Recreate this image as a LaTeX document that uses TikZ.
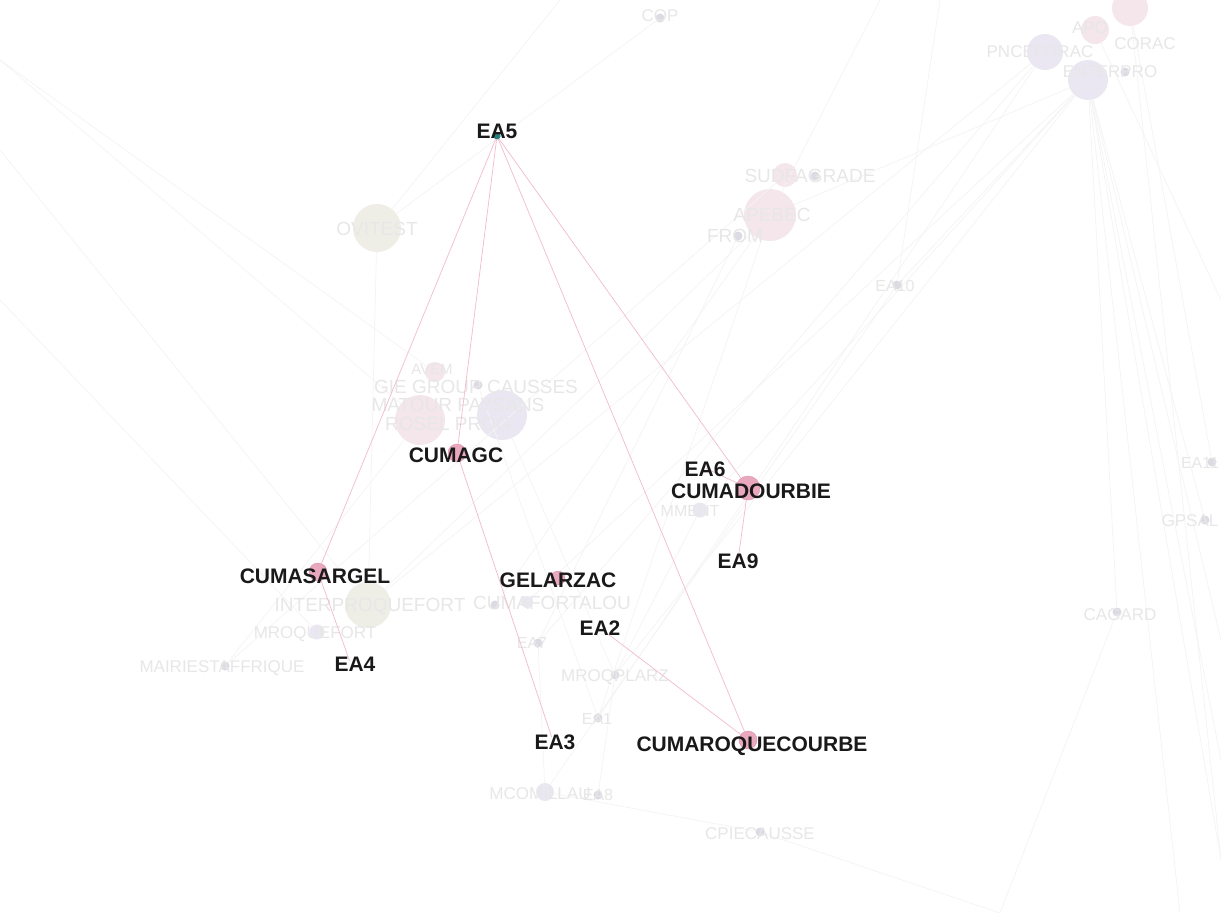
\documentclass[tikz,border=0pt]{standalone}
\usepackage{fontspec}
\setmainfont{Liberation Sans}
\definecolor{hlfill}{HTML}{EAA8BE}
\definecolor{hldraw}{HTML}{DC92AB}
\definecolor{hledge}{HTML}{F2BCCB}
\definecolor{fbeige}{HTML}{EFEEE6}
\definecolor{fpink}{HTML}{F4E6EB}
\definecolor{flav}{HTML}{EAE7F2}
\definecolor{fdot}{HTML}{DCDAE2}
\definecolor{ftext}{HTML}{E7E7E7}
\definecolor{fedge}{HTML}{F4F4F4}
\tikzset{
  hl/.style={circle, fill=hlfill, draw=hldraw, line width=0.4pt, minimum size=#1, inner sep=0pt},
  hl/.default=18pt,
  fn/.style={circle, fill=#1, minimum size=14pt, inner sep=0pt},
  fbig/.style={circle, fill=#1, minimum size=48pt, inner sep=0pt},
  fdotn/.style={circle, fill=fdot, minimum size=9pt, inner sep=0pt},
  lab/.style={font=\fontsize{21}{23}\selectfont\bfseries, text=black!90, inner sep=0pt},
  flab/.style={font=\fontsize{19}{22}\selectfont, text=ftext, inner sep=0pt},
  hledgest/.style={draw=hledge, line width=0.7pt},
  bgedge/.style={draw=fedge, line width=0.7pt}
}
\begin{document}
\begin{tikzpicture}[x=1pt,y=-1pt]
\useasboundingbox (0,0) rectangle (1221,913);
\fill[white] (0,0) rectangle (1221,913);

% ---- border coordinates for faded edges ----
\coordinate (b1) at (0,60);
\coordinate (b2) at (0,150);
\coordinate (b3) at (1221,640);
\coordinate (b4) at (1221,860);
\coordinate (b5) at (560,0);
\coordinate (b6) at (940,0);
\coordinate (b7) at (880,0);
\coordinate (b8) at (1221,300);
\coordinate (b9) at (1000,913);
\coordinate (b10) at (0,300);
\coordinate (b11) at (1221,760);
\coordinate (b12) at (1180,913);

% ---- faded background nodes ----
\node[fbig=fbeige] (ovitest) at (377,228) {};
\node[fn=fpink, minimum size=24pt] (sudgrade) at (785,175) {};
\node[fdotn] (sudgrade2) at (815,176) {};
\node[fbig=fpink, minimum size=52pt] (apebec) at (770,215) {};
\node[fdotn] (from) at (738,236) {};
\node[fdotn] (ea10) at (897,285) {};
\node[fn=fpink, minimum size=20pt] (avem) at (435,372) {};
\node[fdotn] (gie) at (478,385) {};
\node[fbig=fpink, minimum size=50pt] (rosel) at (420,420) {};
\node[fbig=flav, minimum size=50pt] (prog) at (502,415) {};
\node[fn=flav, minimum size=15pt] (mment) at (700,510) {};
\node[fbig=fbeige, minimum size=46pt] (interpro) at (368,605) {};
\node[fn=flav, minimum size=12pt] (fortalou) at (527,602) {};
\node[fdotn] (fortalou2) at (495,605) {};
\node[fn=flav, minimum size=15pt] (mroquefort) at (317,632) {};
\node[fdotn] (mairie) at (225,666) {};
\node[fdotn] (ea7) at (538,643) {};
\node[fdotn] (mroqplarz) at (615,675) {};
\node[fdotn] (ea1) at (598,718) {};
\node[fn=flav, minimum size=18pt] (mco) at (545,792) {};
\node[fdotn] (ea8) at (598,795) {};
\node[fdotn] (cpie) at (760,832) {};
\node[fdotn] (cagard) at (1117,612) {};
\node[fdotn] (gpsa) at (1205,520) {};
\node[fdotn] (ea11) at (1212,462) {};
\node[fn=flav, minimum size=36pt] (pnce) at (1045,52) {};
\node[fn=fpink, minimum size=28pt] (apo) at (1095,30) {};
\node[fn=fpink, minimum size=36pt] (topn) at (1130,8) {};
\node[fn=flav, minimum size=40pt] (enterpro) at (1088,80) {};
\node[fdotn] (corac) at (1125,72) {};
\node[fdotn] (cop) at (660,18) {};

% ---- faded edges ----
\path[bgedge] (b1) -- (avem);
\path[bgedge] (b1) -- (rosel);
\path[bgedge] (b2) -- (interpro);
\path[bgedge] (b10) -- (mroquefort);
\path[bgedge] (ovitest) -- (b5);
\path[bgedge] (enterpro) -- (ea10);
\path[bgedge] (enterpro) -- (apebec);
\path[bgedge] (enterpro) -- (mment);
\path[bgedge] (enterpro) -- (fortalou);
\path[bgedge] (enterpro) -- (mroqplarz);
\path[bgedge] (enterpro) -- (b3);
\path[bgedge] (enterpro) -- (b4);
\path[bgedge] (enterpro) -- (b11);
\path[bgedge] (enterpro) -- (b12);
\path[bgedge] (enterpro) -- (cagard);
\path[bgedge] (enterpro) -- (gpsa);
\path[bgedge] (pnce) -- (ea1);
\path[bgedge] (pnce) -- (ea7);
\path[bgedge] (pnce) -- (interpro);
\path[bgedge] (apo) -- (b8);
\path[bgedge] (topn) -- (b4);
\path[bgedge] (topn) -- (ea11);
\path[bgedge] (b6) -- (ea10);
\path[bgedge] (ea10) -- (mco);
\path[bgedge] (b7) -- (apebec);
\path[bgedge] (apebec) -- (interpro);
\path[bgedge] (apebec) -- (ea1);
\path[bgedge] (apebec) -- (fortalou2);
\path[bgedge] (sudgrade) -- (mairie);
\path[bgedge] (from) -- (ea7);
\path[bgedge] (ovitest) -- (interpro);
\path[bgedge] (prog) -- (mroqplarz);
\path[bgedge] (rosel) -- (mairie);
\path[bgedge] (gie) -- (ea1);
\path[bgedge] (mco) -- (cpie);
\path[bgedge] (ea8) -- (mroqplarz);
\path[bgedge] (mco) -- (ea7);
\path[bgedge] (cpie) -- (b9);
\path[bgedge] (cagard) -- (b9);
\path[bgedge] (mment) -- (mroqplarz);
\path[bgedge] (cop) -- (ovitest);

% ---- faded labels ----
\node[flab] (l-ovitest) at (377,229) {OVITEST};
\node[flab] (l-sudgrade) at (810,176) {SUDFAGRADE};
\node[flab] (l-apebec) at (772,215) {APEBEC};
\node[flab] (l-from) at (735,236) {FROM};
\node[flab, font=\fontsize{16}{18}\selectfont] (l-ea10) at (895,286) {EA10};
\node[flab, font=\fontsize{15}{18}\selectfont] (l-avem) at (432,369) {AVEM};
\node[flab] (l-gie) at (476,387) {GIE GROUP CAUSSES};
\node[flab] (l-matour) at (458,405) {MATOUR PAYSANS};
\node[flab] (l-rosel) at (448,424) {ROSEL PROG};
\node[flab, font=\fontsize{16}{18}\selectfont] (l-mment) at (690,511) {MMENT};
\node[flab] (l-interpro) at (370,607) {INTERPROQUEFORT};
\node[flab] (l-fortalou) at (552,603) {CUMAFORTALOU};
\node[flab, font=\fontsize{17}{18}\selectfont] (l-mroquefort) at (315,634) {MROQUEFORT};
\node[flab, font=\fontsize{17}{18}\selectfont] (l-mairie) at (222,668) {MAIRIESTAFFRIQUE};
\node[flab, font=\fontsize{16}{18}\selectfont] (l-ea7) at (532,643) {EA7};
\node[flab, font=\fontsize{17}{18}\selectfont] (l-mroqplarz) at (615,677) {MROQPLARZ};
\node[flab, font=\fontsize{16}{18}\selectfont] (l-ea1) at (597,719) {EA1};
\node[flab, font=\fontsize{17}{18}\selectfont] (l-mco) at (540,794) {MCOMILLAU};
\node[flab, font=\fontsize{16}{18}\selectfont] (l-ea8) at (598,795) {EA8};
\node[flab, font=\fontsize{17}{18}\selectfont] (l-cpie) at (760,834) {CPIECAUSSE};
\node[flab, font=\fontsize{17}{18}\selectfont] (l-cagard) at (1120,615) {CAGARD};
\node[flab, font=\fontsize{17}{18}\selectfont] (l-gpsa) at (1190,521) {GPSAL};
\node[flab, font=\fontsize{16}{18}\selectfont] (l-ea11) at (1200,463) {EA11};
\node[flab, font=\fontsize{17}{18}\selectfont] (l-pnce) at (1040,52) {PNCEFORAC};
\node[flab, font=\fontsize{17}{18}\selectfont] (l-corac) at (1145,44) {CORAC};
\node[flab, font=\fontsize{17}{18}\selectfont] (l-apo) at (1090,28) {APO};
\node[flab, font=\fontsize{17}{18}\selectfont] (l-enterpro) at (1110,72) {ENTERPRO};
\node[flab, font=\fontsize{17}{18}\selectfont] (l-cop) at (660,16) {COP};

% ---- highlighted nodes ----
\node[circle, fill=teal!70!gray, minimum size=7pt, inner sep=0pt] (ea5) at (497,136) {};
\node[hl] (cumagc) at (457,453) {};
\node[hl] (cumasargel) at (318,572) {};
\node[hl, minimum size=14pt] (gelarzac) at (558,578) {};
\node[hl, minimum size=24pt] (cumadourbie) at (748,488) {};
\node[hl] (cumaroque) at (748,740) {};
\node[circle, minimum size=2pt, inner sep=0pt] (ea6) at (705,468) {};
\node[circle, minimum size=2pt, inner sep=0pt] (ea9) at (738,560) {};
\node[circle, minimum size=2pt, inner sep=0pt] (ea2) at (600,628) {};
\node[circle, minimum size=2pt, inner sep=0pt] (ea3) at (552,738) {};
\node[circle, minimum size=2pt, inner sep=0pt] (ea4) at (350,662) {};

% ---- highlighted edges ----
\path[hledgest] (ea5) -- (cumasargel);
\path[hledgest] (ea5) -- (cumagc);
\path[hledgest] (ea5) -- (cumadourbie);
\path[hledgest] (ea5) -- (cumaroque);
\path[hledgest] (cumagc) -- (ea3);
\path[hledgest] (cumasargel) -- (ea4);
\path[hledgest] (cumadourbie) -- (ea9);
\path[hledgest] (ea2) -- (cumaroque);
\path[hledgest] (ea6) -- (cumadourbie);

% ---- highlighted labels ----
\node[lab] (l-ea5) at (497,131) {EA5};
\node[lab] (l-cumagc) at (456,455) {CUMAGC};
\node[lab] (l-ea6) at (705,469) {EA6};
\node[lab] (l-cumadourbie) at (751,491) {CUMADOURBIE};
\node[lab] (l-ea9) at (738,561) {EA9};
\node[lab] (l-cumasargel) at (315,576) {CUMASARGEL};
\node[lab] (l-gelarzac) at (558,580) {GELARZAC};
\node[lab] (l-ea2) at (600,628) {EA2};
\node[lab] (l-ea4) at (355,664) {EA4};
\node[lab] (l-ea3) at (555,742) {EA3};
\node[lab] (l-cumaroque) at (752,746) {CUMAROQUECOURBE};
\end{tikzpicture}
\end{document}
